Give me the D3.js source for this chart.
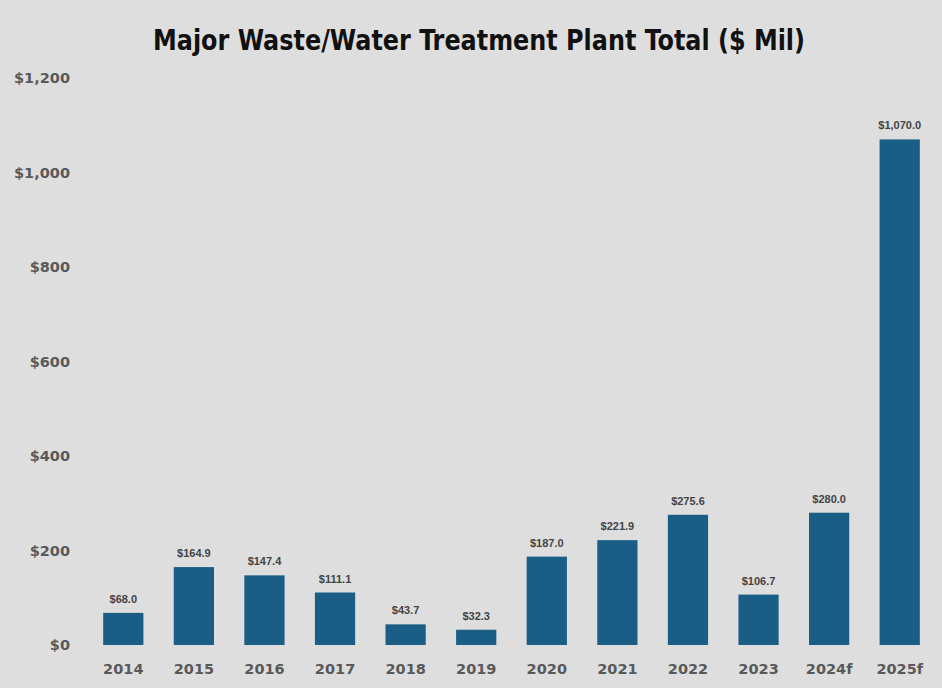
<!DOCTYPE html>
<html>
<head>
<meta charset="utf-8">
<script src="https://cdn.jsdelivr.net/npm/d3@7"></script>
<style>
  html, body { margin: 0; padding: 0; background: #dedede; }
  svg { display: block; }
</style>
</head>
<body>
<svg id="chart" width="942" height="688"></svg>
<script>
// Annual totals, $ millions
const years = ["2014", "2015", "2016", "2017", "2018", "2019", "2020", "2021", "2022", "2023", "2024f", "2025f"];
const totals = [68.0, 164.9, 147.4, 111.1, 43.7, 32.3, 187.0, 221.9, 275.6, 106.7, 280.0, 1070.0];
const yTicks = [0, 200, 400, 600, 800, 1000, 1200];
const chartTitle = "Major Waste/Water Treatment Plant Total ($ Mil)";

const svg = d3.select("#chart");
const W = 942, H = 688;

svg.append("rect").attr("width", W).attr("height", H).attr("fill", "#dedede");

const x = d3.scaleBand().domain(years).range([88, 935]).paddingInner(0.43).paddingOuter(0.215);
const y = d3.scaleLinear().domain([0, 1200]).range([645, 78]);

const money = d3.format("$,");
const moneyDec = v => "$" + d3.format(",.1f")(v);

// Title
svg.append("text")
  .attr("x", 479).attr("y", 50)
  .attr("text-anchor", "middle")
  .attr("font-family", "'Liberation Sans Narrow', 'DejaVu Sans Condensed', Roboto, sans-serif")
  .attr("font-weight", "bold")
  .attr("font-size", 29)
  .attr("fill", "#111")
  .attr("textLength", 652)
  .attr("lengthAdjust", "spacingAndGlyphs")
  .text(chartTitle);

// Y axis labels (no line, no gridlines)
const yAxis = d3.axisLeft(y).tickValues(yTicks).tickFormat(money).tickSize(0).tickPadding(0);
const gy = svg.append("g").attr("transform", "translate(70,0)").call(yAxis);
gy.select(".domain").remove();
gy.selectAll("text")
  .attr("font-family", "'DejaVu Sans', sans-serif")
  .attr("font-weight", "bold")
  .attr("font-size", 14.5)
  .attr("fill", "#595959");

// X axis labels
const xAxis = d3.axisBottom(x).tickSize(0).tickPadding(0);
const gx = svg.append("g").attr("transform", "translate(0,664)").call(xAxis);
gx.select(".domain").remove();
gx.selectAll("text")
  .attr("font-family", "'DejaVu Sans', sans-serif")
  .attr("font-weight", "bold")
  .attr("font-size", 14.5)
  .attr("fill", "#595959");

// Bars
svg.append("g").selectAll("rect")
  .data(years)
  .join("rect")
  .attr("x", d => x(d))
  .attr("width", x.bandwidth())
  .attr("y", (d, i) => y(totals[i]))
  .attr("height", (d, i) => y(0) - y(totals[i]))
  .attr("fill", "#1b5e85");

// Value labels
svg.append("g").selectAll("text")
  .data(years)
  .join("text")
  .attr("x", d => x(d) + x.bandwidth() / 2)
  .attr("y", (d, i) => y(totals[i]) - 10)
  .attr("text-anchor", "middle")
  .attr("font-family", "'Liberation Sans', Arial, sans-serif")
  .attr("font-weight", "bold")
  .attr("font-size", 11)
  .attr("fill", "#444")
  .text((d, i) => moneyDec(totals[i]));
</script>
</body>
</html>
